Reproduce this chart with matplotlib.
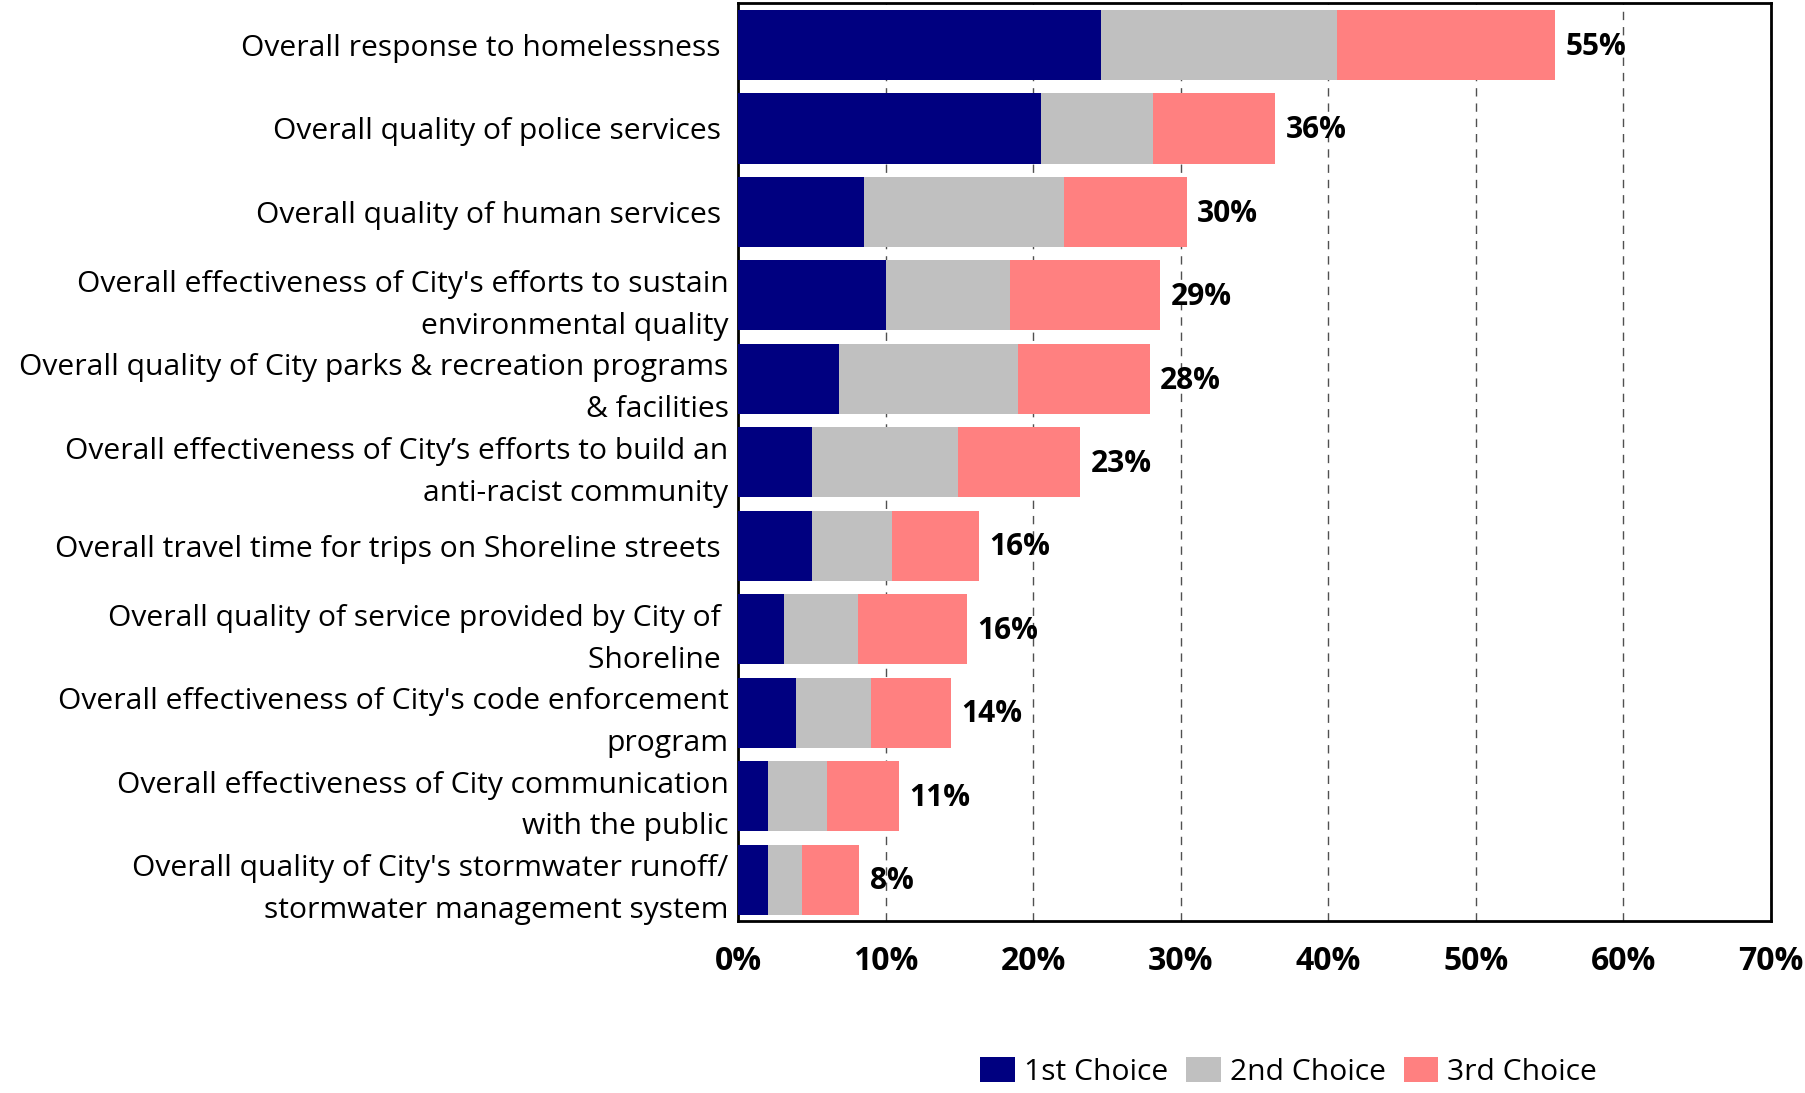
import matplotlib.pyplot as plt
import numpy as np

# === Data ===
categories = [
    "Overall response to homelessness ",
    "Overall quality of police services ",
    "Overall quality of human services ",
    "Overall effectiveness of City's efforts to sustain\nenvironmental quality",
    "Overall quality of City parks & recreation programs\n& facilities",
    "Overall effectiveness of City\u2019s efforts to build an\nanti-racist community",
    "Overall travel time for trips on Shoreline streets ",
    "Overall quality of service provided by City of \nShoreline ",
    "Overall effectiveness of City's code enforcement\nprogram",
    "Overall effectiveness of City communication\nwith the public",
    "Overall quality of City's stormwater runoff/\nstormwater management system",
]
first_choice = [24.6, 20.5, 8.5, 10.0, 6.8, 5.0, 5.0, 3.1, 3.9, 2.0, 2.0]
second_choice = [16.0, 7.6, 13.6, 8.4, 12.2, 9.9, 5.4, 5.0, 5.1, 4.0, 2.3]
third_choice = [14.8, 8.3, 8.3, 10.2, 8.9, 8.3, 5.9, 7.4, 5.4, 4.9, 3.9]
total_labels = ["55%", "36%", "30%", "29%", "28%", "23%", "16%", "16%", "14%", "11%", "8%"]
series_names = ["1st Choice", "2nd Choice", "3rd Choice"]
colors = ["#000080", "#C0C0C0", "#FF8080"]

plt.rcParams['font.family'] = ['Open Sans', 'DejaVu Sans']

fig = plt.figure(figsize=(18.05, 10.93), dpi=100)
ax = fig.add_axes([0.409, 0.157, 0.572, 0.840])

y = np.arange(len(categories))
first = np.array(first_choice)
second = np.array(second_choice)
third = np.array(third_choice)

ax.barh(y, first, height=0.84, color=colors[0], label=series_names[0], zorder=3)
ax.barh(y, second, left=first, height=0.84, color=colors[1], label=series_names[1], zorder=3)
ax.barh(y, third, left=first + second, height=0.84, color=colors[2], label=series_names[2], zorder=3)

# total labels at the end of each bar
totals = first + second + third
for yi, t, lab in zip(y, totals, total_labels):
    ax.text(t + 0.7, yi + 0.02, lab, va='center', ha='left', fontsize=21.5, fontweight='bold', zorder=4)

ax.set_xlim(0, 70)
ax.set_ylim(len(categories) - 0.5, -0.5)
ax.set_xticks(np.arange(0, 71, 10))
ax.set_xticklabels([f"{v}%" for v in range(0, 71, 10)], fontsize=23, fontweight='bold')
ax.set_yticks(y)
ax.set_yticklabels(categories, fontsize=21.6, linespacing=1.58)
ax.tick_params(axis='both', length=0)
ax.tick_params(axis='x', pad=17)
ax.tick_params(axis='y', pad=7)

ax.grid(axis='x', linestyle=(0, (6, 5)), color='#505050', linewidth=1, zorder=0)
for s in ax.spines.values():
    s.set_linewidth(2)
    s.set_color('black')

fig.legend(loc='center', bbox_to_anchor=(0.714, 0.019), ncol=3, frameon=False,
           fontsize=21.6, handlelength=1.15, handleheight=0.9, handletextpad=0.3,
           columnspacing=0.6)

fig.savefig("out.png", dpi=100)
